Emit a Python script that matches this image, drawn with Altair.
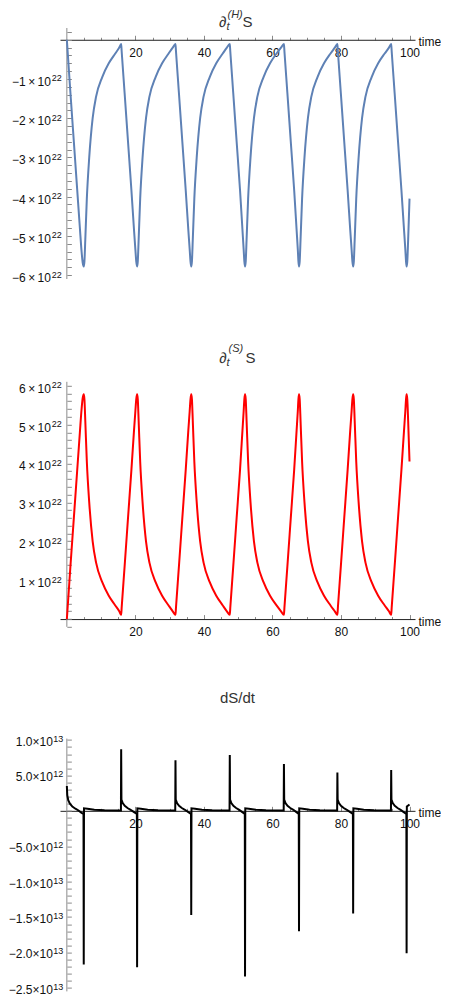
import altair as alt
import pandas as pd

# ---------------- data ----------------
# time grid shared by the two entropy-production curves
t_prod = [0.0, 1.0, 2.0, 3.0, 3.8, 4.3, 4.62, 4.93,
          5.13, 5.38, 5.83, 6.53, 7.53, 8.53, 10.33, 12.23, 14.13, 15.3, 15.85,
          16.0, 16.85, 17.85, 18.85, 19.6, 20.0, 20.25, 20.5,
          20.7, 20.95, 21.4, 22.1, 23.1, 24.1, 25.9, 27.8, 29.7, 30.9, 31.7,
          31.85, 32.7, 33.7, 34.7, 35.45, 35.85, 36.08, 36.3,
          36.5, 36.75, 37.2, 37.9, 38.9, 39.9, 41.7, 43.6, 45.5, 46.7, 47.55,
          47.7, 48.55, 49.55, 50.55, 51.25, 51.6, 51.8, 52.0,
          52.2, 52.45, 52.9, 53.6, 54.6, 55.6, 57.4, 59.3, 61.2, 62.5, 63.35,
          63.5, 64.35, 65.35, 66.35, 67.05, 67.4, 67.58, 67.75,
          67.95, 68.2, 68.65, 69.35, 70.35, 71.35, 73.15, 75.05, 76.95, 78.2, 78.95,
          79.1, 79.95, 80.95, 81.95, 82.7, 83.1, 83.33, 83.55,
          83.75, 84.0, 84.45, 85.15, 86.15, 87.15, 88.95, 90.85, 92.75, 94.0, 94.65,
          94.8, 95.65, 96.65, 97.65, 98.4, 98.78, 98.98, 99.15,
          99.35, 99.6, 100.0]

# d_t^(S) S  (units of 1e22)
s_prod = [0.0, 1.3, 2.55, 3.8, 4.8, 5.4, 5.68, 5.78,
          5.65, 5.1, 4.05, 3.0, 2.0, 1.45, 0.95, 0.6, 0.35, 0.2, 0.11,
          0.3, 1.35, 2.6, 3.85, 4.85, 5.35, 5.65, 5.78,
          5.65, 5.1, 4.05, 3.0, 2.0, 1.45, 0.95, 0.6, 0.35, 0.2, 0.11,
          0.3, 1.35, 2.6, 3.85, 4.85, 5.35, 5.65, 5.78,
          5.65, 5.1, 4.05, 3.0, 2.0, 1.45, 0.95, 0.6, 0.35, 0.2, 0.11,
          0.3, 1.35, 2.6, 3.85, 4.85, 5.35, 5.65, 5.78,
          5.65, 5.1, 4.05, 3.0, 2.0, 1.45, 0.95, 0.6, 0.35, 0.2, 0.11,
          0.3, 1.35, 2.6, 3.85, 4.85, 5.35, 5.65, 5.78,
          5.65, 5.1, 4.05, 3.0, 2.0, 1.45, 0.95, 0.6, 0.35, 0.2, 0.11,
          0.3, 1.35, 2.6, 3.85, 4.85, 5.35, 5.65, 5.78,
          5.65, 5.1, 4.05, 3.0, 2.0, 1.45, 0.95, 0.6, 0.35, 0.2, 0.11,
          0.3, 1.35, 2.6, 3.85, 4.85, 5.35, 5.65, 5.78,
          5.65, 5.1, 4.05]

# d_t^(H) S  (units of 1e22)
h_prod = [0.0, -1.3, -2.55, -3.8, -4.8, -5.4, -5.68, -5.78,
          -5.65, -5.1, -4.05, -3.0, -2.0, -1.45, -0.95, -0.6, -0.35, -0.2, -0.11,
          -0.3, -1.35, -2.6, -3.85, -4.85, -5.35, -5.65, -5.78,
          -5.65, -5.1, -4.05, -3.0, -2.0, -1.45, -0.95, -0.6, -0.35, -0.2, -0.11,
          -0.3, -1.35, -2.6, -3.85, -4.85, -5.35, -5.65, -5.78,
          -5.65, -5.1, -4.05, -3.0, -2.0, -1.45, -0.95, -0.6, -0.35, -0.2, -0.11,
          -0.3, -1.35, -2.6, -3.85, -4.85, -5.35, -5.65, -5.78,
          -5.65, -5.1, -4.05, -3.0, -2.0, -1.45, -0.95, -0.6, -0.35, -0.2, -0.11,
          -0.3, -1.35, -2.6, -3.85, -4.85, -5.35, -5.65, -5.78,
          -5.65, -5.1, -4.05, -3.0, -2.0, -1.45, -0.95, -0.6, -0.35, -0.2, -0.11,
          -0.3, -1.35, -2.6, -3.85, -4.85, -5.35, -5.65, -5.78,
          -5.65, -5.1, -4.05, -3.0, -2.0, -1.45, -0.95, -0.6, -0.35, -0.2, -0.11,
          -0.3, -1.35, -2.6, -3.85, -4.85, -5.35, -5.65, -5.78,
          -5.65, -5.1, -4.05]

# dS/dt
t_total = [0.0, 0.12, 0.4, 0.9, 1.6, 2.5, 3.4, 4.2, 4.86, 4.93, 5.0, 6.0, 8.0, 11.0, 15.78,
           15.85, 15.93, 16.3, 16.9, 17.7, 18.6, 19.5, 20.43, 20.5, 20.57, 21.6, 23.6, 26.6, 31.63,
           31.7, 31.78, 32.15, 32.75, 33.55, 34.45, 35.35, 36.23, 36.3, 36.37, 37.4, 39.4, 42.4, 47.48,
           47.55, 47.63, 48.0, 48.6, 49.4, 50.3, 51.1, 51.93, 52.0, 52.07, 53.1, 55.1, 58.1, 63.28,
           63.35, 63.43, 63.8, 64.4, 65.2, 66.1, 66.9, 67.68, 67.75, 67.82, 68.85, 70.85, 73.85, 78.88,
           78.95, 79.03, 79.4, 80.0, 80.8, 81.7, 82.6, 83.48, 83.55, 83.62, 84.65, 86.65, 89.65, 94.58,
           94.65, 94.73, 95.1, 95.7, 96.5, 97.4, 98.2, 99.08, 99.15, 99.22, 100.0]
# units of 1e12
v_total = [3.5, 2.2, 1.5, 1.0, 0.6, 0.3, 0.05, -0.25, -0.45, -21.7, 0.35, 0.3, 0.15, 0.08, 0.05,
           8.7, 1.6, 1.1, 0.7, 0.4, 0.15, -0.15, -0.45, -22.1, 0.35, 0.3, 0.15, 0.08, 0.05,
           7.15, 1.6, 1.1, 0.7, 0.4, 0.15, -0.15, -0.45, -14.7, 0.35, 0.3, 0.15, 0.08, 0.05,
           7.9, 1.6, 1.1, 0.7, 0.4, 0.15, -0.15, -0.45, -23.4, 0.35, 0.3, 0.15, 0.08, 0.05,
           6.6, 1.6, 1.1, 0.7, 0.4, 0.15, -0.15, -0.45, -17.0, 0.35, 0.3, 0.15, 0.08, 0.05,
           5.4, 1.6, 1.1, 0.7, 0.4, 0.15, -0.15, -0.45, -14.5, 0.35, 0.3, 0.15, 0.08, 0.05,
           5.75, 1.6, 1.1, 0.7, 0.4, 0.15, -0.15, -0.45, -20.1, 0.6, 0.9]

# tick values
x_major = [20, 40, 60, 80, 100]
x_minor = [5 * i for i in range(1, 21)]
h_major = [-6, -5, -4, -3, -2, -1]          # x 1e22
h_minor = [round(-6.0 + 0.2 * i, 1) for i in range(32)]
s_major = [1, 2, 3, 4, 5, 6]                # x 1e22
s_minor = [round(-0.2 + 0.2 * i, 1) for i in range(32)]
d_major = [10, 5, -5, -10, -15, -20, -25]   # x 1e12
d_minor = list(range(-25, 11))

# ---------------- layout / style ----------------
FONT = "Liberation Sans"
W = 355
XDOM = [-2.0, 101.6]
X0 = (0 - XDOM[0]) / (XDOM[1] - XDOM[0]) * W
AX_GRAY = "#8c8c8c"
TICK_GRAY = "#8a8a8a"
LABEL_COLOR = "#111"

df_h = pd.DataFrame({"t": t_prod, "v": [v * 1e22 for v in h_prod]})
df_s = pd.DataFrame({"t": t_prod, "v": [v * 1e22 for v in s_prod]})
df_d = pd.DataFrame({"t": t_total, "v": [v * 1e12 for v in v_total]})


def cond_size(unit):
    return {"condition": {"test": f"abs(datum.value/{unit} - round(datum.value/{unit})) < 1e-6",
                          "value": 4.5}, "value": 2.5}


def panel(df, color, interp, ydom, height, axis_ext, ymaj, ymin, unit, major_unit,
          main_expr, exp_expr, main_pad, exp_pad, main_off, exp_off, title_parts):
    xs = alt.Scale(domain=XDOM, nice=False, zero=False)
    ys = alt.Scale(domain=ydom, nice=False, zero=False)
    y0 = (ydom[1] - 0) / (ydom[1] - ydom[0]) * height
    yvals = [m * unit for m in ymaj]

    line = alt.Chart(df).mark_line(color=color, strokeWidth=2, interpolate=interp).encode(
        x=alt.X("t:Q", scale=xs, axis=alt.Axis(
            orient="bottom", offset=y0 - height, values=x_major, format="d",
            ticks=False, tickSize=0, domain=True, domainColor="#222", domainWidth=1,
            labelPadding=7.5, labelFlush=False, labelOverlap=False,
            labelFont=FONT, labelFontSize=12, labelColor=LABEL_COLOR,
            title="time", titleX=W + 3, titleY=6, titleAlign="left",
            titleBaseline="alphabetic", titleFont=FONT, titleFontSize=12,
            titleFontWeight="normal", titleColor=LABEL_COLOR, grid=False)),
        y=alt.Y("v:Q", scale=ys, axis=alt.Axis(
            orient="left", offset=-X0, values=yvals,
            labelExpr=main_expr, ticks=False, tickSize=0, domain=False,
            labelPadding=main_pad, labelOffset=main_off, labelFlush=False, labelOverlap=False,
            labelFont=FONT, labelFontSize=12, labelColor=LABEL_COLOR,
            title=None, grid=False)),
    )

    expo = alt.Chart(df).mark_line(strokeOpacity=0).encode(
        x=alt.X("t:Q", scale=xs, axis=None),
        y=alt.Y("v:Q", scale=ys, axis=alt.Axis(
            orient="left", offset=-X0, values=yvals,
            labelExpr=exp_expr, ticks=False, tickSize=0, domain=False,
            labelPadding=exp_pad, labelOffset=exp_off, labelFlush=False, labelOverlap=False,
            labelFont=FONT, labelFontSize=9, labelColor=LABEL_COLOR,
            title=None, grid=False)),
    )

    ticks = alt.Chart(df).mark_line(strokeOpacity=0).encode(
        x=alt.X("t:Q", scale=xs, axis=alt.Axis(
            orient="top", offset=-y0, values=x_minor, labels=False, domain=False,
            tickSize=cond_size(20), tickColor=TICK_GRAY, tickWidth=1,
            title=None, grid=False)),
        y=alt.Y("v:Q", scale=ys, axis=alt.Axis(
            orient="right", offset=X0 - W, values=[m * unit for m in ymin], labels=False,
            domain=False, tickSize=cond_size(major_unit), tickColor=TICK_GRAY, tickWidth=1,
            title=None, grid=False)),
    )

    axis_df = pd.DataFrame({"x": [0.0], "y": [axis_ext[1]], "y2": [axis_ext[0]]})
    yline = alt.Chart(axis_df).mark_rule(color=AX_GRAY, strokeWidth=1).encode(
        x=alt.X("x:Q", scale=xs, axis=None),
        y=alt.Y("y:Q", scale=ys, axis=None),
        y2="y2:Q",
    )

    layers = [yline, ticks, expo, line]
    for txt, size, italic, align, px, py in title_parts:
        tdf = pd.DataFrame({"s": [txt]})
        layers.append(
            alt.Chart(tdf).mark_text(
                font=FONT, fontSize=size, fontStyle="italic" if italic else "normal",
                align=align, baseline="alphabetic", color="#333",
            ).encode(text="s:N", x=alt.value(px), y=alt.value(py))
        )
    return alt.layer(*layers).resolve_axis(x="independent", y="independent").properties(
        width=W, height=height)


TS = "\u2009"
main22 = f"format(datum.value/1e22, 'd') + '{TS}\u00d7{TS}10'"
exp22 = "'22'"
main13 = ("abs(datum.value) > 9.9e12 ? format(datum.value/1e13, '.1f') + '\u00d710' : "
          "format(datum.value/1e12, '.1f') + '\u00d710'")
exp13 = "abs(datum.value) > 9.9e12 ? '13' : '12'"

p1 = panel(df_h, "#5E81B5", "monotone", [-6.1e22, 0.3e22], 251.0, [-6.1e22, 0.3e22],
           h_major, h_minor, 1e22, 1, main22, exp22, 16.4, 5.5, 2.5, -1.0,
           [("\u2202", 15, False, "left", 159, -1), ("t", 11, True, "left", 166.5, 2),
            ("(H)", 11, True, "left", 167.5, -10.5), ("S", 15, False, "left", 182.5, -1)])
p2 = panel(df_s, "#FF0000", "monotone", [-0.43e22, 6.1e22], 254.0, [-0.2e22, 6.1e22],
           s_major, s_minor, 1e22, 1, main22, exp22, 16.4, 5.5, 2.5, -1.0,
           [("\u2202", 15, False, "left", 159.3, -19.3), ("t", 11, True, "left", 166.5, -16),
            ("(S)", 11, True, "left", 168.5, -29.5), ("S", 15, False, "left", 185.5, -19.3)])
p3 = panel(df_d, "#000000", "linear", [-25.5e12, 10.2e12], 252.8, [-25.5e12, 10.2e12],
           d_major, d_minor, 1e12, 5, main13, exp13, 14.5, 4.0, 1.5, -1.5,
           [("dS/dt", 15, False, "center", W / 2, -36.1)])

chart = alt.vconcat(p1, p2, p3, spacing=102.8, bounds="flush").properties(
    padding=0
).configure_view(stroke=None)

chart.save("out.html", embed_options={"renderer": "svg", "actions": False})
